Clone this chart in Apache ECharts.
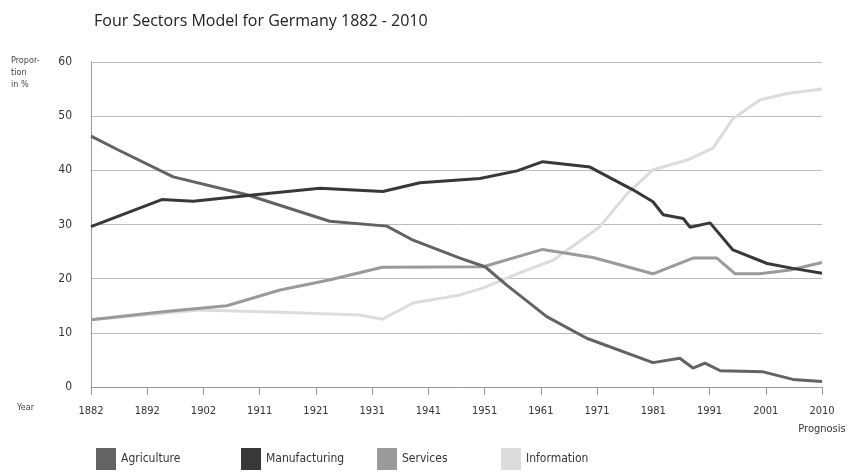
<!DOCTYPE html>
<html>
<head>
<meta charset="utf-8">
<script src="https://cdn.jsdelivr.net/npm/echarts@6/dist/echarts.min.js"></script>
<style>html,body{margin:0;padding:0;background:#fff;}#c{width:851px;height:474px;}</style>
</head>
<body>
<div id="c"></div>
<script>
const BASE_YEAR = 1882;
const END_YEAR = 2010;
const tickLabels = ['1882','1892','1902','1911','1921','1931','1941','1951','1961','1971','1981','1991','2001','2010\nPrognosis'];

const agriYears = [1882,1886.7,1896.4,1909.3,1923.8,1933.8,1938.4,1946.6,1951,1954.8,1961.8,1968.8,1980.4,1985.1,1987.4,1989.5,1992.2,1999.7,2004.9,2010];
const agriValues = [46.3,43.8,38.8,35.5,30.6,29.7,27.1,23.8,22.2,18.8,13.0,9.0,4.5,5.3,3.5,4.4,3.0,2.8,1.4,1.0];

const manuYears = [1882,1894.4,1899.9,1911.6,1922.1,1933.1,1939.6,1950.1,1956.6,1961.1,1969.4,1970.6,1976.9,1980.4,1982.2,1985.7,1986.9,1990.4,1994.4,2000.4,2004.9,2010];
const manuValues = [29.6,34.6,34.3,35.6,36.7,36.1,37.7,38.5,39.9,41.6,40.6,39.9,36.4,34.2,31.8,31.1,29.5,30.3,25.3,22.8,21.9,21.0];

const servYears = [1882,1894.6,1905.8,1915.1,1923.9,1933.0,1950.7,1961.1,1969.9,1980.4,1987.4,1991.6,1994.8,1999.1,2004.4,2010];
const servValues = [12.4,13.9,15.0,17.9,19.8,22.1,22.2,25.4,23.9,20.9,23.8,23.8,20.9,20.9,21.6,23.0];

const infoYears = [1882,1901,1915,1929,1933,1938.4,1946.6,1950.7,1957.6,1962.9,1971.1,1975.9,1980.4,1986.4,1990.9,1994.4,1999.1,2003.9,2010];
const infoValues = [12.4,14.2,13.8,13.3,12.5,15.5,17.0,18.3,21.3,23.4,29.6,35.7,40.1,41.9,44.1,49.5,53.0,54.2,55.0];

function pairs(years, values) {
  return years.map((y, i) => [y - BASE_YEAR, values[i]]);
}

const span = END_YEAR - BASE_YEAR;
const step = span / (tickLabels.length - 1);
const font = '"DejaVu Sans Condensed", Roboto, sans-serif';

const chart = echarts.init(document.getElementById('c'));

function legendAt(name, left) {
  return {
    data: [name], left: left, top: 443, icon: 'rect', itemWidth: 20, itemHeight: 22, itemGap: 0,
    textStyle: { fontFamily: font, fontSize: 12, color: '#333', padding: [12, 0, 0, 0] }
  };
}

chart.setOption({
  backgroundColor: '#fff',
  animation: false,
  title: {
    text: 'Four Sectors Model for Germany 1882 - 2010',
    left: 89, top: 8,
    textStyle: { fontFamily: 'Open Sans', fontWeight: 'normal', fontSize: 16, color: '#222' }
  },
  legend: [
    legendAt('Agriculture', 91),
    legendAt('Manufacturing', 236),
    legendAt('Services', 372),
    legendAt('Information', 496)
  ],
  grid: { left: 91, right: 29, top: 62, bottom: 87 },
  xAxis: {
    type: 'value', min: 0, max: span, interval: step,
    axisLine: { show: true, lineStyle: { color: '#999', width: 1 } },
    axisTick: { show: true, length: 8, lineStyle: { color: '#999' } },
    splitLine: { show: false },
    axisLabel: {
      margin: 15, fontFamily: font, fontSize: 11, color: '#333', lineHeight: 18,
      formatter: v => tickLabels[Math.round(v / step)]
    }
  },
  yAxis: {
    type: 'value', min: 0, max: 60, interval: 10,
    axisLine: { show: true, lineStyle: { color: '#999', width: 1 } },
    axisTick: { show: false },
    splitLine: { show: true, lineStyle: { color: '#bbb', width: 1 } },
    axisLabel: { margin: 19, fontFamily: font, fontSize: 12, color: '#333' }
  },
  graphic: [
    { type: 'text', left: 11, top: 55, style: { text: 'Propor-\ntion\nin %', font: '9px "DejaVu Sans Condensed", Roboto, sans-serif', fill: '#444', lineHeight: 12 } },
    { type: 'text', left: 17, top: 403, style: { text: 'Year', font: '9px "DejaVu Sans Condensed", Roboto, sans-serif', fill: '#444' } }
  ],
  series: [
    { name: 'Information', type: 'line', data: pairs(infoYears, infoValues), symbol: 'none', color: '#dcdcdc', itemStyle: { color: '#dcdcdc' }, lineStyle: { width: 3, color: '#dcdcdc' }, z: 1 },
    { name: 'Services', type: 'line', data: pairs(servYears, servValues), symbol: 'none', color: '#9a9a9a', itemStyle: { color: '#9a9a9a' }, lineStyle: { width: 3, color: '#9a9a9a' }, z: 2 },
    { name: 'Agriculture', type: 'line', data: pairs(agriYears, agriValues), symbol: 'none', color: '#636363', itemStyle: { color: '#636363' }, lineStyle: { width: 3, color: '#636363' }, z: 3 },
    { name: 'Manufacturing', type: 'line', data: pairs(manuYears, manuValues), symbol: 'none', color: '#383838', itemStyle: { color: '#383838' }, lineStyle: { width: 3, color: '#383838' }, z: 4 }
  ]
});
</script>
</body>
</html>
